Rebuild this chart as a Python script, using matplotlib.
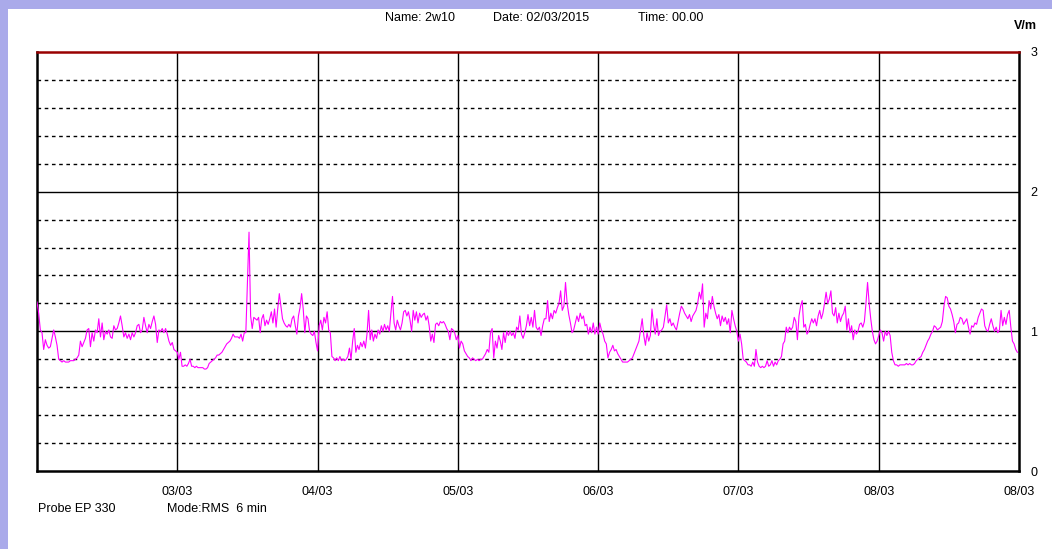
"""
Field strength log, probe EP 330 (RMS, 6 min), 02/03 - 08/03.
"""

import matplotlib.pyplot as plt
import numpy as np
from matplotlib.patches import Rectangle

# =============================================================================
# STYLE SETTINGS
# =============================================================================
LINE_COLOR = '#ff00ff'
TOP_COLOR = '#990000'
BORDER_COLOR = '#aaaaea'
FONT = 'Liberation Sans'
FS = 9

# =============================================================================
# DATA (V/m, evenly spaced within each day)
# =============================================================================
day_labels = ['03/03', '04/03', '05/03', '06/03', '07/03', '08/03', '08/03']

day_02 = [1.21, 1.13, 1.01, 0.99, 0.87, 0.94, 0.90, 0.88, 0.89, 0.95, 1.01, 0.96,
          0.90, 0.80, 0.79, 0.78, 0.79, 0.78, 0.78, 0.78, 0.79, 0.79, 0.79, 0.80,
          0.81, 0.83, 0.93, 0.89, 0.92, 0.95, 1.01, 1.02, 0.89, 0.99, 0.93, 1.01,
          0.99, 1.09, 0.96, 1.06, 0.94, 1.00, 0.98, 1.01, 0.96, 0.95, 1.04, 1.01,
          1.02, 1.06, 1.11, 1.04, 0.96, 0.99, 0.95, 0.98, 0.94, 0.99, 0.96, 0.99,
          1.04, 1.05, 0.99, 1.01, 1.10, 1.04, 0.99, 1.05, 1.02, 1.07, 1.11, 1.05,
          0.92, 1.01, 1.00, 1.02, 0.99, 1.02, 0.98, 0.93, 0.90, 0.92, 0.87, 0.86]

day_03 = [0.85, 0.80, 0.85, 0.75, 0.75, 0.76, 0.75, 0.77, 0.80, 0.75, 0.75, 0.74,
          0.75, 0.74, 0.74, 0.74, 0.74, 0.73, 0.73, 0.74, 0.77, 0.78, 0.79, 0.80,
          0.81, 0.83, 0.83, 0.84, 0.85, 0.87, 0.89, 0.91, 0.92, 0.93, 0.95, 0.98,
          0.96, 0.96, 0.96, 0.95, 0.98, 0.93, 0.99, 0.99, 1.35, 1.71, 1.11, 1.02,
          1.10, 1.09, 1.08, 1.10, 0.99, 1.09, 1.12, 1.04, 1.08, 1.05, 1.09, 1.14,
          1.06, 1.16, 1.03, 1.16, 1.27, 1.18, 1.09, 1.06, 1.04, 1.03, 1.05, 1.03,
          1.09, 1.11, 1.04, 0.98, 1.11, 1.17, 1.27, 1.16, 0.99, 1.11, 1.09, 1.00,
          0.98, 0.97, 1.00, 0.92]

day_04 = [0.86, 1.04, 1.08, 1.01, 1.10, 1.06, 1.14, 1.01, 0.99, 0.82, 0.81, 0.79,
          0.81, 0.79, 0.82, 0.79, 0.80, 0.79, 0.80, 0.82, 0.88, 0.80, 0.93, 1.02,
          0.85, 0.90, 0.87, 0.92, 0.89, 0.93, 0.88, 0.98, 1.15, 0.94, 1.01, 0.93,
          0.98, 0.95, 1.01, 0.98, 1.04, 1.00, 1.05, 1.01, 1.04, 1.00, 1.13, 1.25,
          1.06, 1.01, 1.08, 1.04, 1.01, 1.06, 1.14, 1.15, 1.11, 1.14, 1.08, 1.00,
          1.15, 1.08, 1.14, 1.06, 1.13, 1.10, 1.12, 1.13, 1.08, 1.11, 1.04, 0.93,
          0.98, 0.92, 1.05, 1.06, 1.04, 1.07, 1.06, 1.07, 1.05, 1.02, 1.00, 0.94,
          1.02, 1.01, 0.99, 0.94]

day_05 = [0.97, 0.88, 0.93, 0.91, 0.86, 0.84, 0.82, 0.81, 0.79, 0.81, 0.80, 0.79,
          0.80, 0.79, 0.80, 0.80, 0.82, 0.84, 0.87, 0.85, 0.99, 1.02, 0.81, 0.93,
          0.88, 0.97, 0.93, 0.87, 0.99, 0.92, 1.00, 0.97, 1.00, 0.97, 0.99, 0.95,
          1.03, 1.01, 1.11, 0.98, 0.95, 0.99, 1.04, 1.12, 1.04, 1.10, 1.03, 1.15,
          1.03, 1.01, 1.03, 0.97, 1.04, 1.09, 1.09, 1.22, 1.07, 1.13, 1.09, 1.15,
          1.13, 1.17, 1.20, 1.29, 1.15, 1.18, 1.35, 1.20, 1.12, 1.06, 0.99, 1.01,
          1.06, 1.11, 1.07, 1.13, 1.09, 1.11, 1.04, 1.05, 0.98, 1.03, 0.99, 1.06,
          0.98, 1.03]

day_06 = [0.98, 1.06, 1.01, 0.98, 0.93, 0.91, 0.81, 0.85, 0.87, 0.90, 0.86, 0.87,
          0.84, 0.82, 0.80, 0.78, 0.78, 0.78, 0.78, 0.79, 0.80, 0.81, 0.84, 0.87,
          0.90, 0.93, 1.01, 1.09, 0.97, 0.90, 0.99, 0.93, 0.97, 1.16, 1.05, 0.98,
          1.09, 0.97, 1.00, 1.01, 1.03, 1.11, 1.19, 1.06, 1.09, 1.04, 1.06, 1.03,
          1.01, 1.07, 1.13, 1.18, 1.16, 1.13, 1.11, 1.09, 1.12, 1.07, 1.11, 1.13,
          1.15, 1.20, 1.28, 1.23, 1.34, 1.03, 1.13, 1.09, 1.22, 1.16, 1.25, 1.18,
          1.13, 1.09, 1.12, 1.04, 1.11, 1.07, 1.10, 1.05, 1.09, 0.99, 1.15, 1.09,
          1.04, 1.00]

day_07 = [0.93, 0.98, 0.91, 0.80, 0.79, 0.78, 0.76, 0.76, 0.75, 0.78, 0.75, 0.87,
          0.78, 0.75, 0.74, 0.75, 0.74, 0.75, 0.79, 0.75, 0.76, 0.79, 0.75, 0.78,
          0.76, 0.79, 0.80, 0.82, 0.91, 0.93, 1.03, 0.99, 1.03, 1.01, 1.03, 1.10,
          1.07, 0.94, 1.11, 1.18, 1.22, 1.03, 1.05, 0.98, 1.00, 1.05, 1.09, 1.06,
          1.09, 1.04, 1.11, 1.15, 1.09, 1.13, 1.20, 1.28, 1.20, 1.23, 1.29, 1.13,
          1.11, 1.17, 1.06, 1.13, 1.07, 1.11, 1.13, 1.18, 1.01, 1.09, 0.99, 1.04,
          0.94, 1.01, 0.98, 1.00, 1.05, 1.06, 1.03, 1.07, 1.20, 1.35, 1.20, 1.09,
          1.00, 0.94, 0.91, 0.93]

day_08 = [0.97, 1.01, 0.99, 0.93, 1.00, 0.97, 1.00, 0.97, 0.85, 0.79, 0.76, 0.76,
          0.75, 0.76, 0.76, 0.76, 0.76, 0.77, 0.76, 0.77, 0.76, 0.76, 0.77, 0.79,
          0.80, 0.81, 0.82, 0.85, 0.87, 0.90, 0.93, 0.95, 0.98, 1.00, 1.04, 1.03,
          1.01, 1.02, 1.03, 1.07, 1.18, 1.25, 1.24, 1.18, 1.16, 1.12, 1.07, 0.99,
          1.05, 1.06, 1.10, 1.09, 1.05, 1.07, 1.09, 1.03, 0.98, 1.04, 1.03, 1.06,
          1.05, 1.10, 1.13, 1.16, 1.15, 1.04, 1.01, 1.00, 1.05, 1.09, 1.04, 1.00,
          1.03, 0.99, 1.01, 1.15, 1.04, 1.10, 1.05, 1.12, 1.15, 1.03, 0.93, 0.91,
          0.87, 0.85]

days = [day_02, day_03, day_04, day_05, day_06, day_07, day_08]

# time axis in days since 02/03 00:00
t = np.concatenate([d + np.arange(len(v)) / len(v) for d, v in enumerate(days)])
field = np.concatenate(days)

# =============================================================================
# FIGURE
# =============================================================================
fig = plt.figure(figsize=(10.52, 5.49), dpi=100)
fig.patch.set_facecolor('white')

# screen frame (lavender strip top and left)
fig.patches.append(Rectangle((0, 1 - 9 / 549), 1, 9 / 549, transform=fig.transFigure,
                             facecolor=BORDER_COLOR, edgecolor='none'))
fig.patches.append(Rectangle((0, 0), 8 / 1052, 1, transform=fig.transFigure,
                             facecolor=BORDER_COLOR, edgecolor='none'))

ax = fig.add_axes([37 / 1052, 78 / 549, 982 / 1052, 419 / 549])

# grid: dashed every 0.2, solid at whole volts and at each midnight
for y in np.arange(0.2, 3.0, 0.2):
    if abs(y - round(y)) < 1e-6:
        ax.axhline(y, color='black', linewidth=1.0, zorder=1)
    else:
        ax.axhline(y, color='black', linewidth=1.0, linestyle=(0, (2.6, 2.6)), zorder=1)
for d in range(1, 7):
    ax.axvline(d, color='black', linewidth=1.0, zorder=1)

ax.plot(t, field, color=LINE_COLOR, linewidth=0.8, zorder=3)

# -----------------------------------------------------------------------------
# AXES FORMATTING
# -----------------------------------------------------------------------------
ax.set_xlim(0, 7)
ax.set_ylim(0, 3)

ax.set_xticks(np.arange(1, 8))
ax.set_xticklabels(day_labels, fontsize=FS, family=FONT)
ax.set_yticks([0, 1, 2, 3])
ax.set_yticklabels(['0', '1', '2', '3'], fontsize=FS, family=FONT)
ax.yaxis.tick_right()
ax.tick_params(axis='both', length=0)
ax.tick_params(axis='x', pad=11)
ax.tick_params(axis='y', pad=8)

for side in ['left', 'bottom', 'right']:
    ax.spines[side].set_linewidth(1.8)
    ax.spines[side].set_color('black')
ax.spines['top'].set_linewidth(1.8)
ax.spines['top'].set_color(TOP_COLOR)

# -----------------------------------------------------------------------------
# TEXTS
# -----------------------------------------------------------------------------
fig.text(385 / 1052, 1 - 18 / 549, 'Name: 2w10', fontsize=FS, family=FONT, va='center')
fig.text(493 / 1052, 1 - 18 / 549, 'Date: 02/03/2015', fontsize=FS, family=FONT, va='center')
fig.text(638 / 1052, 1 - 18 / 549, 'Time: 00.00', fontsize=FS, family=FONT, va='center')
fig.text(1014 / 1052, 1 - 26 / 549, 'V/m', fontsize=FS, family=FONT,
         fontweight='bold', va='center')

fig.text(38 / 1052, 1 - 509 / 549, 'Probe EP 330', fontsize=FS, family=FONT, va='center')
fig.text(167 / 1052, 1 - 509 / 549, 'Mode:RMS  6 min', fontsize=FS, family=FONT, va='center')

plt.savefig("out.png", dpi=100)
